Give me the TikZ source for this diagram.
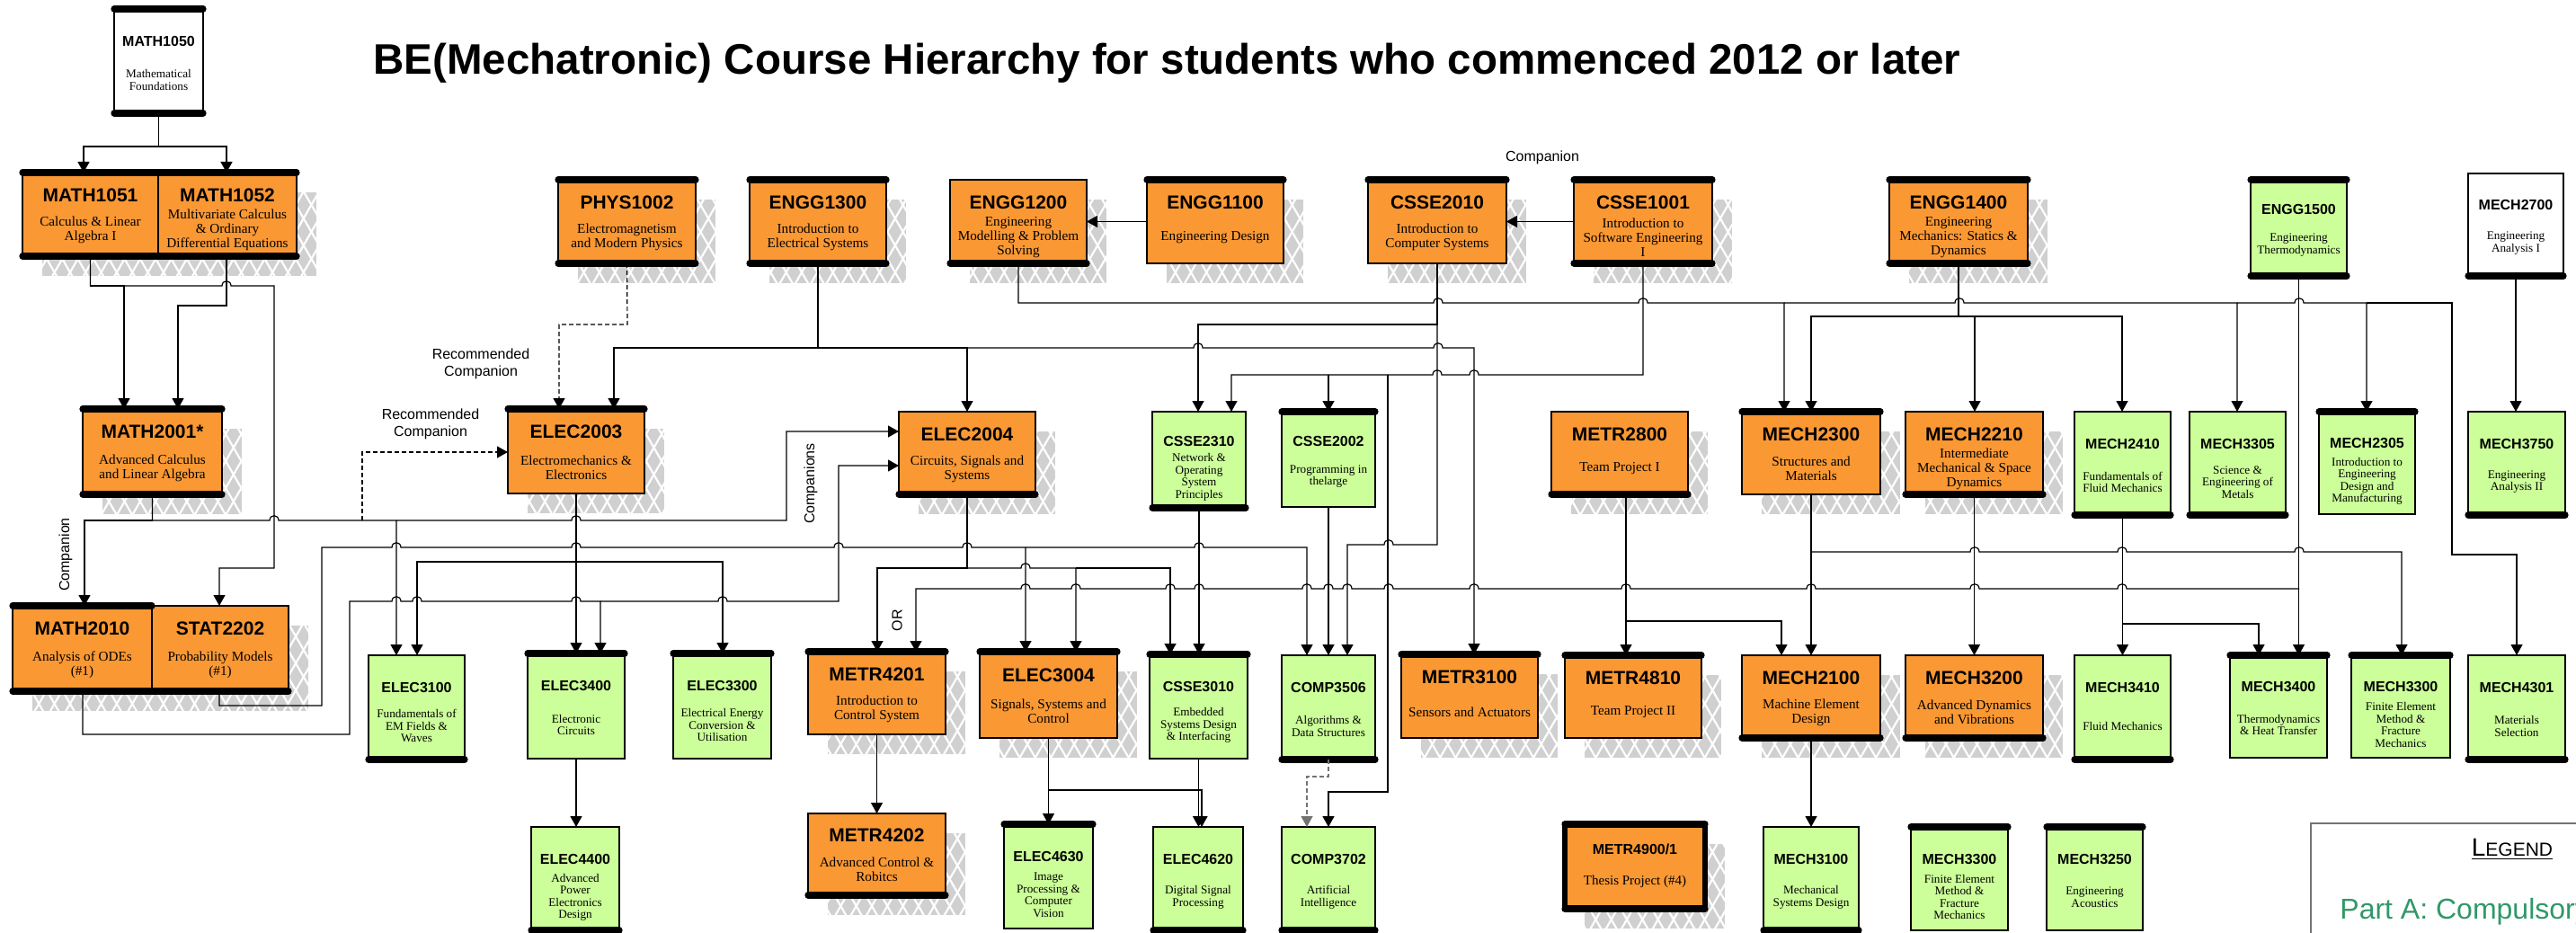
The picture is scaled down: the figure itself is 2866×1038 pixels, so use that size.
\documentclass[tikz,border=0pt]{standalone}
\usepackage{fontspec}
\setmainfont{Liberation Serif}
\setsansfont{Liberation Sans}
\usetikzlibrary{arrows.meta,patterns.meta}

\definecolor{corange}{RGB}{250,152,52}
\definecolor{cgreen}{RGB}{204,255,153}
\definecolor{cshade}{RGB}{208,208,208}
\definecolor{clegend}{RGB}{48,152,104}

\pgfdeclarelayer{shadows}
\pgfsetlayers{shadows,main}

\tikzset{
  box/.style={draw=black, line width=1.2pt, outer sep=0pt, inner sep=0pt},
  orangebox/.style={box, fill=corange},
  greenbox/.style={box, fill=cgreen},
  whitebox/.style={box, fill=white},
  bar/.style={line width=3.6pt, line cap=round},
  bigcode/.style={font=\sffamily\bfseries\fontsize{10.5}{10.5}\selectfont, inner sep=0pt},
  smallcode/.style={font=\sffamily\bfseries\fontsize{8}{8}\selectfont, inner sep=0pt},
  bigdesc/.style={font=\fontsize{7.6}{8}\selectfont, align=center, inner sep=0pt},
  smalldesc/.style={font=\fontsize{6.6}{6.75}\selectfont, align=center, inner sep=0pt},
  link/.style={draw=black, line width=0.6pt},
  arr/.style={link, -{Triangle[length=6pt,width=6.5pt]}},
  darr/.style={arr, dash pattern=on 2.5pt off 1.5pt},
  note/.style={font=\sffamily\fontsize{8}{9.5}\selectfont, align=center, inner sep=0pt},
  hatch/.style={pattern={Lines[angle=#1,distance=7.5pt,line width=1.1pt]}, pattern color=white},
}

% orange course box with hatched shadow: name, x1, y1, x2, y2, code, title
\newcommand{\obox}[7]{%
  \begin{pgfonlayer}{shadows}
    \fill[cshade] ({#2+22},{#3+22}) rectangle ({#4+22},{#5+22});
    \fill[hatch=60] ({#2+22},{#3+22}) rectangle ({#4+22},{#5+22});
    \fill[hatch=120] ({#2+22},{#3+22}) rectangle ({#4+22},{#5+22});
  \end{pgfonlayer}
  \node[orangebox, minimum width={(#4-#2)*0.5pt}, minimum height={(#5-#3)*0.5pt}]
    (#1) at ({(#2+#4)/2},{(#3+#5)/2}) {};
  \node[bigcode] (#1-code) at ({(#2+#4)/2},{#3+0.27*(#5-#3)}) {#6};
  \node[bigdesc] (#1-title) at ({(#2+#4)/2},{#3+0.69*(#5-#3)}) {#7};
}
% green (or white) course box: [style] name, x1, y1, x2, y2, code, title
\newcommand{\gbox}[8][greenbox]{%
  \node[#1, minimum width={(#5-#3)*0.5pt}, minimum height={(#6-#4)*0.5pt}]
    (#2) at ({(#3+#5)/2},{(#4+#6)/2}) {};
  \node[smallcode] (#2-code) at ({(#3+#5)/2},{#4+0.31*(#6-#4)}) {#7};
  \node[smalldesc] (#2-title) at ({(#3+#5)/2},{#4+0.68*(#6-#4)}) {#8};
}
\newcommand{\topbar}[1]{\draw[bar] (#1.north west) -- (#1.north east);}
\newcommand{\botbar}[1]{\draw[bar] (#1.south west) -- (#1.south east);}
% line hops over a crossing vertical line
\newcommand{\jr}[2]{-- ({#1-5},#2) .. controls ({#1-5},{#2-7}) and ({#1+5},{#2-7}) .. ({#1+5},#2)}
\newcommand{\jl}[2]{-- ({#1+5},#2) .. controls ({#1+5},{#2-7}) and ({#1-5},{#2-7}) .. ({#1-5},#2)}

\begin{document}
\begin{tikzpicture}[x=0.5pt,y=-0.5pt]
\useasboundingbox (0,0) rectangle (2866,1038);
\clip (0,0) rectangle (2866,1038);

\node[anchor=base west, inner sep=0pt, font=\sffamily\bfseries\fontsize{23.75}{28}\selectfont]
  (title) at (415,83) {BE(Mechatronic) Course Hierarchy for students who commenced 2012 or later};

% first year
\gbox[whitebox]{MATH1050}{127}{10}{226}{126}{MATH1050}{Mathematical\\Foundations}
\topbar{MATH1050} \botbar{MATH1050}
\obox{MATH1051}{25}{192}{176}{285}{MATH1051}{Calculus \& Linear\\Algebra I}
\obox{MATH1052}{176}{192}{330}{285}{MATH1052}{Multivariate Calculus\\\& Ordinary\\Differential Equations}
\topbar{MATH1051} \botbar{MATH1051} \topbar{MATH1052} \botbar{MATH1052}
\obox{PHYS1002}{621}{200}{774}{293}{PHYS1002}{Electromagnetism\\and Modern Physics}
\topbar{PHYS1002} \botbar{PHYS1002}
\obox{ENGG1300}{834}{200}{986}{293}{ENGG1300}{Introduction to\\Electrical Systems}
\topbar{ENGG1300} \botbar{ENGG1300}
\obox{ENGG1200}{1057}{200}{1209}{293}{ENGG1200}{Engineering\\Modelling \& Problem\\Solving}
\botbar{ENGG1200}
\obox{ENGG1100}{1276}{200}{1428}{293}{ENGG1100}{Engineering Design}
\topbar{ENGG1100}
\obox{CSSE2010}{1522}{200}{1676}{293}{CSSE2010}{Introduction to\\Computer Systems}
\topbar{CSSE2010}
\obox{CSSE1001}{1751}{200}{1905}{293}{CSSE1001}{Introduction to\\Software Engineering\\I}
\topbar{CSSE1001} \botbar{CSSE1001}
\obox{ENGG1400}{2102}{200}{2256}{293}{ENGG1400}{Engineering\\Mechanics: Statics \&\\Dynamics}
\topbar{ENGG1400} \botbar{ENGG1400}
\gbox{ENGG1500}{2504}{200}{2611}{307}{ENGG1500}{Engineering\\Thermodynamics}
\topbar{ENGG1500} \botbar{ENGG1500}
\gbox[whitebox]{MECH2700}{2746}{193}{2852}{307}{MECH2700}{Engineering\\Analysis I}
\botbar{MECH2700}

% second year
\obox{MATH2001}{92}{455}{247}{550}{MATH2001*}{Advanced Calculus\\and Linear Algebra}
\topbar{MATH2001} \botbar{MATH2001}
\obox{ELEC2003}{565}{455}{717}{549}{ELEC2003}{Electromechanics \&\\Electronics}
\topbar{ELEC2003}
\obox{ELEC2004}{1000}{458}{1152}{550}{ELEC2004}{Circuits, Signals and\\Systems}
\botbar{ELEC2004}
\gbox{CSSE2310}{1282}{458}{1386}{565}{CSSE2310}{Network \&\\Operating\\System\\Principles}
\botbar{CSSE2310}
\gbox{CSSE2002}{1426}{458}{1530}{564}{CSSE2002}{Programming in\\thelarge}
\topbar{CSSE2002}
\obox{METR2800}{1726}{458}{1878}{550}{METR2800}{Team Project I}
\botbar{METR2800}
\obox{MECH2300}{1938}{458}{2092}{550}{MECH2300}{Structures and\\Materials}
\topbar{MECH2300}
\obox{MECH2210}{2120}{458}{2273}{550}{MECH2210}{Intermediate\\Mechanical \& Space\\Dynamics}
\botbar{MECH2210}
\gbox{MECH2410}{2308}{458}{2415}{573}{MECH2410}{Fundamentals of\\Fluid Mechanics}
\botbar{MECH2410}
\gbox{MECH3305}{2436}{458}{2543}{573}{MECH3305}{Science \&\\Engineering of\\Metals}
\botbar{MECH3305}
\gbox{MECH2305}{2580}{458}{2687}{572}{MECH2305}{Introduction to\\Engineering\\Design and\\Manufacturing}
\topbar{MECH2305}
\gbox{MECH3750}{2746}{458}{2854}{573}{MECH3750}{Engineering\\Analysis II}
\botbar{MECH3750}

% third year
\obox{MATH2010}{14}{674}{169}{769}{MATH2010}{Analysis of ODEs\\(\#1)}
\obox{STAT2202}{169}{674}{321}{769}{STAT2202}{Probability Models\\(\#1)}
\topbar{MATH2010} \botbar{MATH2010} \botbar{STAT2202}
\gbox{ELEC3100}{410}{729}{517}{845}{ELEC3100}{Fundamentals of\\EM Fields \&\\Waves}
\botbar{ELEC3100}
\gbox{ELEC3400}{587}{727}{695}{844}{ELEC3400}{Electronic\\Circuits}
\topbar{ELEC3400}
\gbox{ELEC3300}{749}{727}{858}{844}{ELEC3300}{Electrical Energy\\Conversion \&\\Utilisation}
\topbar{ELEC3300}
\obox{METR4201}{899}{725}{1052}{817}{METR4201}{Introduction to\\Control System}
\topbar{METR4201}
\obox{ELEC3004}{1090}{725}{1243}{821}{ELEC3004}{Signals, Systems and\\Control}
\topbar{ELEC3004}
\gbox{CSSE3010}{1279}{728}{1388}{844}{CSSE3010}{Embedded\\Systems Design\\\& Interfacing}
\topbar{CSSE3010}
\gbox{COMP3506}{1426}{729}{1530}{845}{COMP3506}{Algorithms \&\\Data Structures}
\botbar{COMP3506}
\obox{METR3100}{1559}{728}{1711}{821}{METR3100}{Sensors and Actuators}
\topbar{METR3100}
\obox{METR4810}{1741}{729}{1893}{821}{METR4810}{Team Project II}
\topbar{METR4810}
\obox{MECH2100}{1938}{729}{2092}{821}{MECH2100}{Machine Element\\Design}
\botbar{MECH2100}
\obox{MECH3200}{2120}{729}{2273}{821}{MECH3200}{Advanced Dynamics\\and Vibrations}
\botbar{MECH3200}
\gbox{MECH3410}{2308}{729}{2415}{845}{MECH3410}{Fluid Mechanics}
\botbar{MECH3410}
\gbox{MECH3400}{2481}{729}{2589}{843}{MECH3400}{Thermodynamics\\\& Heat Transfer}
\topbar{MECH3400}
\gbox{MECH3300a}{2616}{729}{2726}{843}{MECH3300}{Finite Element\\Method \&\\Fracture\\Mechanics}
\topbar{MECH3300a}
\gbox{MECH4301}{2746}{729}{2854}{845}{MECH4301}{Materials\\Selection}
\botbar{MECH4301}

% fourth year
\gbox{ELEC4400}{591}{920}{689}{1035}{ELEC4400}{Advanced\\Power\\Electronics\\Design}
\botbar{ELEC4400}
\obox{METR4202}{899}{905}{1052}{996}{METR4202}{Advanced Control \&\\Robitcs}
\botbar{METR4202}
\gbox{ELEC4630}{1117}{917}{1216}{1033}{ELEC4630}{Image\\Processing \&\\Computer\\Vision}
\topbar{ELEC4630}
\gbox{ELEC4620}{1283}{920}{1383}{1035}{ELEC4620}{Digital Signal\\Processing}
\botbar{ELEC4620}
\gbox{COMP3702}{1426}{920}{1530}{1035}{COMP3702}{Artificial\\Intelligence}
\botbar{COMP3702}
\begin{pgfonlayer}{shadows}
  \fill[cshade] (1763,939) rectangle (1919,1033);
  \fill[hatch=60] (1763,939) rectangle (1919,1033);
  \fill[hatch=120] (1763,939) rectangle (1919,1033);
\end{pgfonlayer}
\node[orangebox, line width=2.8pt, minimum width=78pt, minimum height=47pt] (METR4900) at (1819,964) {};
\topbar{METR4900} \botbar{METR4900}
\node[smallcode] (METR4900-code) at (1819,945) {METR4900/1};
\node[font=\fontsize{7.5}{8}\selectfont, inner sep=0pt] (METR4900-title) at (1819,981) {Thesis Project (\#4)};
\gbox{MECH3100}{1962}{920}{2068}{1035}{MECH3100}{Mechanical\\Systems Design}
\botbar{MECH3100}
\gbox{MECH3300b}{2126}{920}{2234}{1035}{MECH3300}{Finite Element\\Method \&\\Fracture\\Mechanics}
\topbar{MECH3300b}
\gbox{MECH3250}{2277}{920}{2384}{1035}{MECH3250}{Engineering\\Acoustics}
\topbar{MECH3250}

% maths chain
\draw[arr] (MATH1050.south) |- (93,163) -- (MATH1051.north -| 93,0);
\draw[arr] (MATH1050.south) |- (252,163) -- (MATH1052.north -| 252,0);
\draw[arr] (MATH1051.south) |- (138,318) -- (MATH2001.north -| 138,0);
\draw[arr] (MATH1051.south) |- (247,318) \jr{252}{318} -- (305,318) -- (305,632) -- (244,632) -- (STAT2202.north -| 244,0);
\draw[arr] (MATH1052.south -| 252,0) -- (252,340) -- (198,340) -- (MATH2001.north -| 198,0);
\draw[arr] (MATH2001.south) |- (94,579) -- (MATH2010.north -| 94,0);
\draw[arr] (MATH2001.south) |- (299,579) \jr{305}{579} -- (441,579) -- (ELEC3100.north -| 441,0);
\draw[arr] (441,579) \jr{641}{579} -- (875,579) -- (875,480) -- (ELEC2004.west |- 0,480);
\draw[darr] (403,579) -- (403,503) -- (ELEC2003.west |- 0,503);
\draw[arr] (STAT2202.south -| 244,0) -- (244,785) -- (358,785) -- (358,609) \jr{441}{609} \jr{641}{609} \jr{933}{609} \jr{1076}{609} -- (1141,609) -- (ELEC3004.north -| 1141,0);
\draw[arr] (1141,609) \jr{1334}{609} -- (1454,609) -- (COMP3506.north -| 1454,0);
\draw[arr] (MATH2010.south -| 92,0) -- (92,817) -- (389,817) -- (389,669) \jr{441}{669} \jr{464}{669} \jr{641}{669} -- (668,669) -- (ELEC3400.north -| 668,0);
\draw[arr] (668,669) \jr{804}{669} -- (933,669) -- (933,518) -- (ELEC2004.west |- 0,518);

% first year to second year
\draw[darr] (PHYS1002.south) -- (698,361) -- (622,361) -- (ELEC2003.north -| 622,0);
\draw[arr] (ENGG1300.south) |- (683,387) -- (ELEC2003.north -| 683,0);
\draw[arr] (ENGG1300.south) |- (1076,387) -- (ELEC2004.north -| 1076,0);
\draw[arr] (1076,387) \jr{1333}{387} \jr{1600}{387} -- (1640,387) -- (METR3100.north -| 1640,0);
\draw[arr] (ENGG1100.west) -- (ENGG1200.east);
\draw[arr] (CSSE1001.west) -- (CSSE2010.east);
\draw[arr] (ENGG1200.south) |- (1595,337) \jr{1600}{337} \jr{1828}{337} -- (1985,337) -- (MECH2300.north -| 1985,0);
\draw[arr] (1985,337) \jr{2180}{337} -- (2489,337) -- (MECH3305.north -| 2489,0);
\draw[arr] (2489,337) \jr{2558}{337} -- (2633,337) -- (MECH2305.north -| 2633,0);
\draw[arr] (2633,337) -- (2728,337) -- (2728,617) -- (2800,617) -- (MECH4301.north -| 2800,0);
\draw[arr] (ENGG1400.south) |- (2015,352) -- (MECH2300.north -| 2015,0);
\draw[arr] (ENGG1400.south) |- (2361,352) -- (MECH2410.north -| 2361,0);
\draw[arr] (2197,352) -- (MECH2210.north -| 2197,0);
\draw[arr] (CSSE2010.south) |- (1333,361) -- (CSSE2310.north -| 1333,0);
\draw[arr] (CSSE2010.south) -- (1599,606) \jl{1545}{606} -- (1499,606) -- (COMP3506.north -| 1499,0);
\draw[arr] (CSSE1001.south) |- (1645,417) \jl{1640}{417} \jl{1599}{417} -- (1370,417) -- (CSSE2310.north -| 1370,0);
\draw[arr] (1478,417) -- (CSSE2002.north -| 1478,0);
\draw[arr] (1544,417) -- (1544,881) -- (1478,881) -- (COMP3702.north -| 1478,0);
\draw[arr] (ENGG1500.south) -- (MECH3400.north -| ENGG1500.south);
\draw[arr] (2558,655) \jl{2361}{655} \jl{2197}{655} \jl{2015}{655} \jl{1809}{655} \jl{1640}{655} \jl{1545}{655} \jl{1499}{655} \jl{1478}{655} \jl{1454}{655} \jl{1334}{655} \jl{1302}{655} \jl{1197}{655} \jl{1141}{655} -- (1019,655) -- (METR4201.north -| 1019,0);
\draw[arr] (MECH2700.south) -- (MECH3750.north -| MECH2700.south);

% second year to third year
\draw[arr] (ELEC2003.south) -- (ELEC3400.north -| ELEC2003.south);
\draw[arr] (641,625) -- (464,625) -- (ELEC3100.north -| 464,0);
\draw[arr] (641,625) -- (804,625) -- (ELEC3300.north -| 804,0);
\draw[arr] (ELEC2004.south) |- (976,632) -- (METR4201.north -| 976,0);
\draw[arr] (ELEC2004.south) |- (1136,632) \jr{1141}{632} -- (1197,632) -- (ELEC3004.north -| 1197,0);
\draw[arr] (1197,632) -- (1302,632) -- (CSSE3010.north -| 1302,0);
\draw[arr] (CSSE2310.south) -- (CSSE3010.north -| CSSE2310.south);
\draw[arr] (CSSE2002.south) -- (COMP3506.north -| CSSE2002.south);
\draw[arr] (METR2800.south -| 1809,0) -- (METR4810.north -| 1809,0);
\draw[arr] (1809,691) -- (1982,691) -- (MECH2100.north -| 1982,0);
\draw[arr] (MECH2300.south) -- (MECH2100.north -| MECH2300.south);
\draw[arr] (2015,614) \jr{2197}{614} \jr{2361}{614} \jr{2558}{614} -- (2672,614) -- (MECH3300a.north -| 2672,0);
\draw[arr] (MECH2210.south) -- (MECH3200.north -| MECH2210.south);
\draw[arr] (MECH2410.south) -- (MECH3410.north -| MECH2410.south);
\draw[arr] (2361,694) -- (2513,694) -- (MECH3400.north -| 2513,0);

% third year to fourth year
\draw[arr] (ELEC3400.south) -- (ELEC4400.north -| ELEC3400.south);
\draw[arr] (METR4201.south) -- (METR4202.north -| METR4201.south);
\draw[arr] (ELEC3004.south) -- (ELEC4630.north -| ELEC3004.south);
\draw[arr] (ELEC3004.south |- 0,879) -- (1337,879) -- (ELEC4620.north -| 1337,0);
\draw[arr] (CSSE3010.south) -- (ELEC4620.north -| CSSE3010.south);
\draw[darr, draw=black!55] (COMP3506.south) -- (1478,864) -- (1454,864) -- (COMP3702.north -| 1454,0);
\draw[arr] (MECH2100.south) -- (MECH3100.north -| MECH2100.south);

% notes on the connectors
\node[note] (recA) at (535,405) {Recommended\\Companion};
\node[note] (recB) at (479,472) {Recommended\\Companion};
\node[note, rotate=90] (compA) at (73,617) {Companion};
\node[note, rotate=90] (compB) at (902,538) {Companions};
\node[note, rotate=90] (orlbl) at (998,690) {OR};
\node[note] (compC) at (1716,175) {Companion};

% legend
\draw[draw=black!55, line width=0.8pt] (2571,1050) -- (2571,916) -- (2880,916);
\node[anchor=base, inner sep=0pt, font=\sffamily] (legendhead) at (2795,952)
  {\underline{{\fontsize{14}{14}\selectfont L}{\fontsize{10.5}{14}\selectfont EGEND}}};
\node[anchor=base west, inner sep=0pt, text=clegend, font=\sffamily\fontsize{16}{19}\selectfont]
  (parta) at (2603,1022) {Part A: Compulsory};
\end{tikzpicture}
\end{document}
